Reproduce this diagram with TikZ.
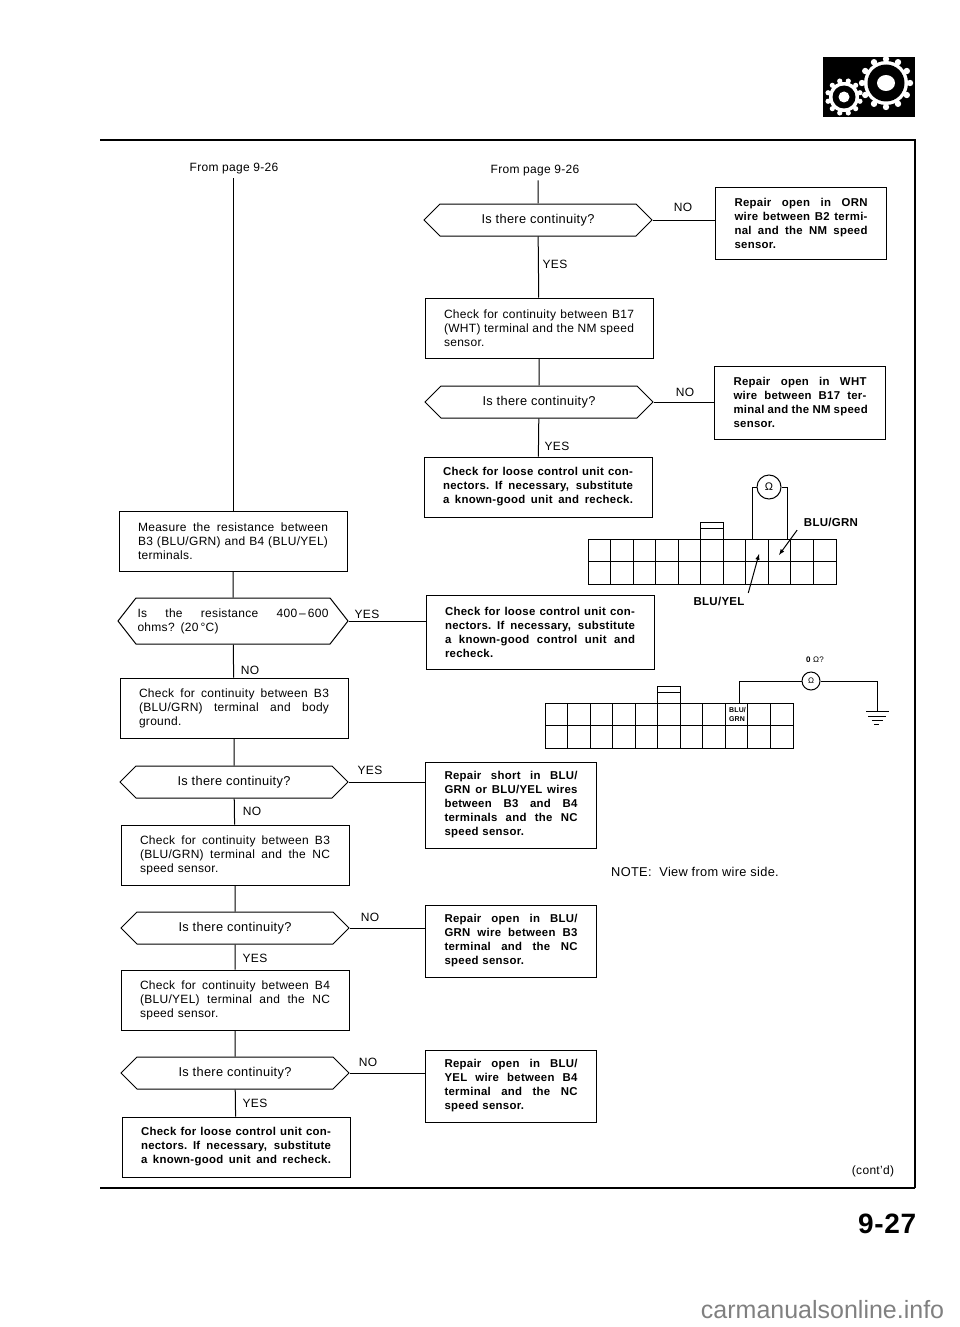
\documentclass[tikz,border=0pt]{standalone}
\usepackage{fontspec}
\setmainfont[LetterSpace=2.5]{Liberation Sans}
\usetikzlibrary{positioning}
\usetikzlibrary{shapes.symbols}
\newcommand{\fitline}[1]{\hbox to \hsize{\spaceskip=.28em plus 1fil\relax #1}\par}
\newcommand{\drawplug}[2]{%
  \begin{scope}[shift={(#1,#2)}]
    \draw (0,0) rectangle (248,45);
    \draw (0,22.5) to (248,22.5);
    \foreach \col in {1,...,10}
      \draw ({\col*22.55},0) to ({\col*22.55},45);
    \draw (112,0) to (112,-17) to (135,-17) to (135,0);
    \draw (112,-11) to (135,-11);
  \end{scope}}
\begin{document}
\begin{tikzpicture}
    [
    x=1pt,y=-1pt,line width=1pt,
    stepbox/.style={rectangle,draw,inner xsep=19pt,inner ysep=0pt,text width=190pt,
      minimum height=60pt,font=\fontsize{12}{14}\selectfont},
    boldbox/.style={stepbox,font=\fontsize{11.4}{14}\selectfont\bfseries},
    repairbox/.style={boldbox,text width=133pt},
    decision/.style={signal,signal to=west and east,signal pointer angle=90,draw,inner sep=0pt,
      minimum width=228pt,minimum height=32pt,font=\fontsize{12.8}{14}\selectfont},
    answer/.style={font=\fontsize{12}{14}\selectfont},
    caption/.style={font=\fontsize{12.8}{14}\selectfont},
    meter/.style={circle,draw,fill=white,inner sep=0pt,font=\fontsize{11}{11}\selectfont},
    wirecolor/.style={font=\fontsize{11.5}{11}\selectfont\bfseries},
    ]
    % page frame
    \coordinate (ruleL) at (100,140);
    \coordinate (ruleR) at (915,140);
    \coordinate (baseR) at (915,1188);
    \coordinate (baseL) at (100,1188);
    \draw [line width=1.6pt] (ruleL) to (ruleR) to (baseR);
    \draw [line width=2pt] (baseR) to (baseL);

    % gear badge
    \fill (823,57) rectangle (915,117);
    \foreach \a in {0,30,...,330} {
      \fill [white] (886,83) ++(\a:24) circle (3.2);
      \fill [white] (844,97) ++(\a+15:16.5) circle (2.6);
    }
    \fill [white] (886,83) circle (22);
    \fill [white] (844,97) circle (15);
    \fill (886,83) circle (18.5);
    \fill (844,97) circle (11.5);
    \fill [white] (886,83) ellipse (9 and 8);
    \fill [white] (844,97) circle (5.5);

    % left column
    \node (fromL) at (234,169) [answer] {From page 9-26};
    \node (m1) at (233,541) [stepbox] {\fitline{Measure the resistance between}\fitline{B3 (BLU/GRN) and B4 (BLU/YEL)}terminals.};
    \node (d1) at (233,621) [decision,signal pointer angle=104,minimum height=46pt,minimum width=230pt,text width=191pt,font=\fontsize{12}{14}\selectfont] {\fitline{Is the resistance 400\,--\,600}ohms? (20\,°C)};
    \node (c2) at (234,708) [stepbox] {\fitline{Check for continuity between B3}\fitline{(BLU/GRN) terminal and body}ground.};
    \node (d2) at (234,782) [decision] {Is there continuity?};
    \node (c3) at (235,855) [stepbox] {\fitline{Check for continuity between B3}\fitline{(BLU/GRN) terminal and the NC}speed sensor.};
    \node (d3) at (235,928) [decision] {Is there continuity?};
    \node (c4) at (235,1000) [stepbox] {\fitline{Check for continuity between B4}\fitline{(BLU/YEL) terminal and the NC}speed sensor.};
    \node (d4) at (235,1073) [decision] {Is there continuity?};
    \node (c5) at (236,1147) [boldbox] {\fitline{Check for loose control unit con-}\fitline{nectors. If necessary, substitute}\fitline{a known-good unit and recheck.}};

    % right column
    \node (fromR) at (535,171) [answer] {From page 9-26};
    \node (d5) at (538,220) [decision] {Is there continuity?};
    \node (c6) at (539,328) [stepbox] {\fitline{Check for continuity between B17}\fitline{(WHT) terminal and the NM speed}sensor.};
    \node (d6) at (539,402) [decision] {Is there continuity?};
    \node (c7) at (538,487) [boldbox] {\fitline{Check for loose control unit con-}\fitline{nectors. If necessary, substitute}\fitline{a known-good unit and recheck.}};
    \node (c8) at (540,632) [boldbox,minimum height=74pt] {\fitline{Check for loose control unit con-}\fitline{nectors. If necessary, substitute}\fitline{a known-good control unit and}recheck.};

    % repair boxes
    \node (r1) at (801,223) [repairbox,minimum height=72pt] {\fitline{Repair open in ORN}\fitline{wire between B2 termi-}\fitline{nal and the NM speed}sensor.};
    \node (r2) at (800,402.5) [repairbox,minimum height=73pt] {\fitline{Repair open in WHT}\fitline{wire between B17 ter-}\fitline{minal and the NM speed}sensor.};
    \node (r3) at (511,805) [repairbox,minimum height=86pt] {\fitline{Repair short in BLU/}\fitline{GRN or BLU/YEL wires}\fitline{between B3 and B4}\fitline{terminals and the NC}speed sensor.};
    \node (r4) at (511,941) [repairbox,minimum height=72pt] {\fitline{Repair open in BLU/}\fitline{GRN wire between B3}\fitline{terminal and the NC}speed sensor.};
    \node (r5) at (511,1086) [repairbox,minimum height=72pt] {\fitline{Repair open in BLU/}\fitline{YEL wire between B4}\fitline{terminal and the NC}speed sensor.};

    \draw (m1 |- fromL.south) to (m1.north);
    \draw (m1) to (d1);
    \draw (d1) to (c2);
    \draw (c2) to (d2);
    \draw (d2) to (c3);
    \draw (c3) to (d3);
    \draw (d3) to (c4);
    \draw (c4) to (d4);
    \draw (d4) to (c5);
    \draw (d5 |- fromR.south) to (d5);
    \draw (d5) to (c6);
    \draw (c6) to (d6);
    \draw (d6) to (c7);
    \draw (d1.east) to (d1.east -| c8.west);
    \draw (d2.east) to (d2.east -| r3.west);
    \draw (d3.east) to (d3.east -| r4.west);
    \draw (d4.east) to (d4.east -| r5.west);
    \draw (d5.east) to (d5.east -| r1.west);
    \draw (d6.east) to (d6.east -| r2.west);

    \node (a1) at (683,207) [answer] {NO};
    \node (a2) at (555,264) [answer] {YES};
    \node (a3) at (685,392) [answer] {NO};
    \node (a4) at (557,446) [answer] {YES};
    \node (a5) at (367,614) [answer] {YES};
    \node (a6) at (250,670) [answer] {NO};
    \node (a7) at (370,770) [answer] {YES};
    \node (a8) at (252,811) [answer] {NO};
    \node (a9) at (370,917) [answer] {NO};
    \node (a10) at (255,958) [answer] {YES};
    \node (a11) at (368,1062) [answer] {NO};
    \node (a12) at (255,1103) [answer] {YES};

    % upper connector
    \drawplug{588}{539}
    \node (ohmA) at (769,487) [meter,minimum size=24pt] {Ω};
    \coordinate (pinA1) at (752,539);
    \coordinate (pinA2) at (787,539);
    \draw (ohmA.west) -| (pinA1);
    \draw (ohmA.east) -| (pinA2);
    \node (grnA) at (831,522) [wirecolor] {BLU/GRN};
    \node (yelA) at (719,601) [wirecolor] {BLU/YEL};
    \coordinate (grnTip) at (779,555);
    \coordinate (yelTip) at (759,554);
    \draw [-latex] (grnA.south west) ++(-3,0) to (grnTip);
    \draw [-latex] (yelA.north east) to (yelTip);

    % lower connector
    \drawplug{545}{703}
    \node (grnB) at (737.5,714.5) [font=\fontsize{7}{8.5}\selectfont\bfseries,align=left,inner sep=0pt] {BLU/\\GRN};
    \node (ohmB) at (811,681) [meter,minimum size=18pt,font=\fontsize{8}{8}\selectfont] {Ω};
    \node (ohmQ) at (815,660) [font=\fontsize{8}{8}\selectfont] {\textbf{0} Ω?};
    \coordinate (pinB) at (739,703);
    \coordinate (gnd) at (877,711);
    \draw (ohmB.west) -| (pinB);
    \draw (ohmB.east) -| (gnd);
    \draw (866,711) to (889,711);
    \draw (868,716) to (886,716);
    \draw (872,720) to (883,720);
    \draw (874,724) to (879,724);

    \node (note) at (695,872) [caption] {NOTE:\ \ View from wire side.};
    \node (contd) at (873,1171) [answer] {(cont'd)};
    \node (pageno) [anchor=east,font=\fontsize{28}{28}\selectfont\bfseries] at (920,1224) {9-27};
    \node (site) [anchor=east,text=black!50,font=\fontsize{25}{25}\selectfont\addfontfeature{LetterSpace=0}] at (948,1310) {carmanualsonline.info};

    \useasboundingbox (0,0) rectangle (960,1327);
  \end{tikzpicture}
\end{document}
